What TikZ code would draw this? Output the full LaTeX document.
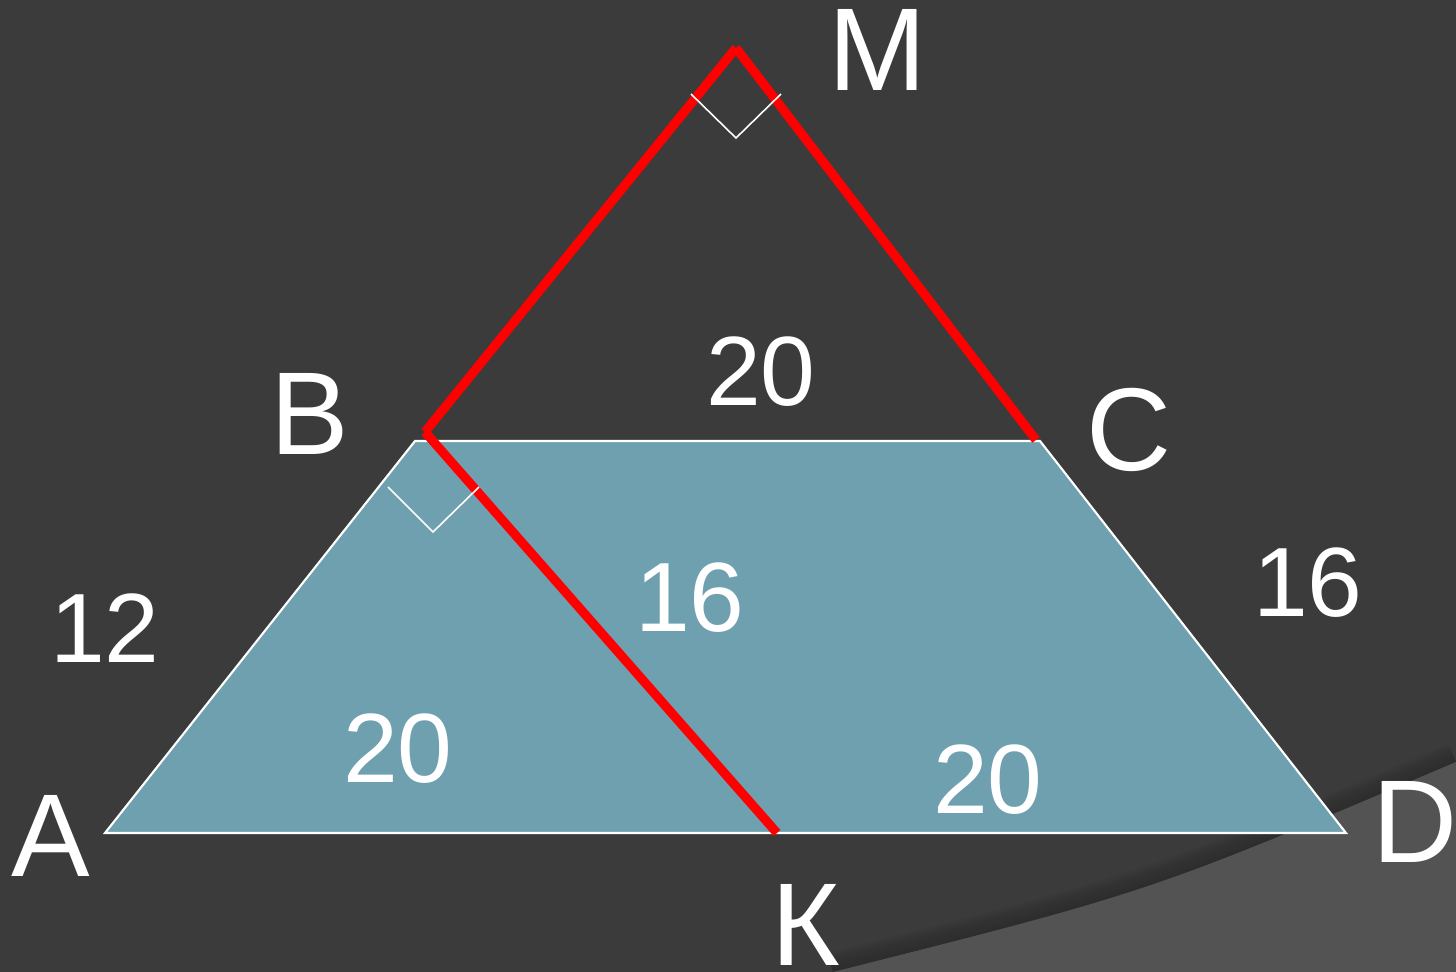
\documentclass[tikz,border=0pt]{standalone}
\usepackage{fontspec}
\setmainfont{Liberation Sans}
\usetikzlibrary{calc}
\definecolor{BoardGray}{RGB}{59,59,59}
\definecolor{SwooshGray}{RGB}{83,83,83}
\definecolor{TrapezBlue}{RGB}{111,160,176}
\definecolor{SegRed}{RGB}{255,0,0}

\begin{document}
\begin{tikzpicture}[x=0.01cm,y=-0.01cm,
    vlbl/.style={white,inner sep=0pt,font=\fontsize{33.5}{40}\selectfont},
    nlbl/.style={white,inner sep=0pt,font=\fontsize{28}{34}\selectfont},
    redseg/.style={SegRed,line width=2.6pt},
    rmark/.style={white,line width=0.45pt}]
  \fill[BoardGray] (0,0) rectangle (1456,972);
  \useasboundingbox (0,0) rectangle (1456,972);
  % swoosh in the corner
  \foreach \w in {4,8,...,40}
    \draw[black,opacity=0.02,line width=\w*0.2845pt] (833,972) .. controls (1150,892) .. (1456,762);
  \fill[SwooshGray] (833,972) .. controls (1150,892) .. (1456,762) -- (1456,972) -- cycle;
  % points
  \coordinate (A) at (105,833);
  \coordinate (B) at (415,441);
  \coordinate (C) at (1040,441);
  \coordinate (D) at (1346,833);
  \coordinate (M) at (736,48);
  \coordinate (K) at (777,833);
  \coordinate (Br) at (425,432);
  \coordinate (Cr) at (1036,440);
  \filldraw[fill=TrapezBlue,draw=white,line width=0.6pt] (A) -- (B) -- (C) -- (D) -- cycle;
  \draw[redseg] (Br) -- (M);
  \draw[redseg] (M) -- (Cr);
  \draw[redseg] (Br) -- (K);
  \draw[rmark] (M) ++(-45,46) -- ++(45,44) -- ++(45,-44);
  \draw[rmark] (Br) ++(-37,55) -- ++(45,45) -- ++(46,-45);
  % vertex names
  \node[vlbl] (labM) at (878,50) {M};
  \node[vlbl] (labB) at (310,414) {B};
  \node[vlbl] (labC) at (1129,430) {C};
  \node[vlbl] (labA) at (51,836) {A};
  \node[vlbl] (labD) at (1415,822) {D};
  \node[vlbl] (labK) at (806,925) {К};
  % lengths
  \node[nlbl] (lenBC) at (761,372) {20};
  \node[nlbl] (lenBK) at (690,598) {16};
  \node[nlbl] (lenAB) at (105,628) {12};
  \node[nlbl] (lenAK) at (398,749) {20};
  \node[nlbl] (lenKD) at (988,780) {20};
  \node[nlbl] (lenCD) at (1308,583) {16};
\end{tikzpicture}
\end{document}
